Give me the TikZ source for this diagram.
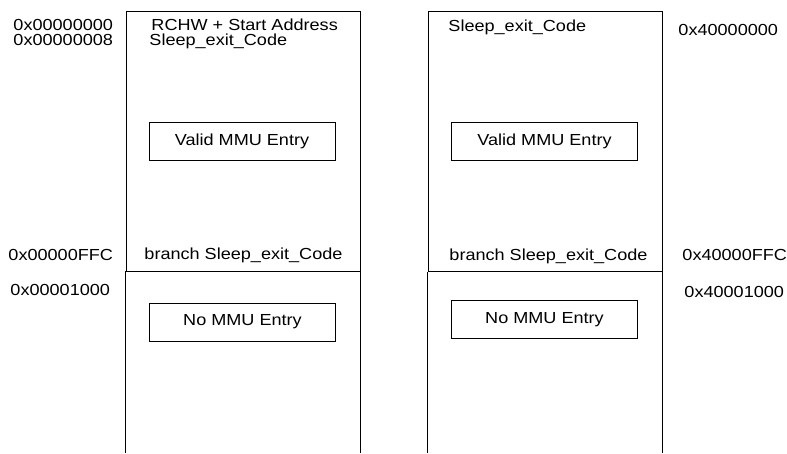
\documentclass[tikz,border=0pt]{standalone}
\usepackage{fontspec}
\setmainfont[FakeStretch=1.13]{Liberation Sans}
\usetikzlibrary{positioning}

\begin{document}
\begin{tikzpicture}[x=1pt, y=-1pt, line width=0.9pt, font=\fontsize{16pt}{19pt}\selectfont]
    \tikzstyle{page} = [rectangle, draw=black, minimum width=234pt, minimum height=260pt, inner sep=0pt]
    \tikzstyle{entry} = [rectangle, draw=black, minimum width=186pt, minimum height=38pt, inner sep=0pt]
    \tikzstyle{label} = [anchor=base west, inner sep=0pt]

    \useasboundingbox (0,0) rectangle (787,453);
    \coordinate (bottom) at (0,453);

    \node[page] (flashtop) at (243,141) {};
    \node[page] (ramtop) at (545,141.5) {};

    \draw (flashtop.south west) -- (flashtop.south west |- bottom);
    \draw (flashtop.south east) -- (flashtop.south east |- bottom);
    \draw (ramtop.south west) -- (ramtop.south west |- bottom);
    \draw (ramtop.south east) -- (ramtop.south east |- bottom);

    \node[entry] (flashvalid) at (242,141.5) {Valid MMU Entry};
    \node[entry] (ramvalid) at (544.5,141.5) {Valid MMU Entry};
    \node[entry] (flashno) at (242.5,322) {No MMU Entry};
    \node[entry] (ramno) at (544.5,319.5) {No MMU Entry};

    \node[label] (rchw) at (151,30) {RCHW + Start Address};
    \node[label] (flashexit) at (149,45) {Sleep\_exit\_Code};
    \node[label] (ramexit) at (448,31) {Sleep\_exit\_Code};
    \node[label] (flashbranch) at (144,259) {branch Sleep\_exit\_Code};
    \node[label] (rambranch) at (449,260) {branch Sleep\_exit\_Code};

    \node[label] (addra) at (13,30) {0x00000000};
    \node[label] (addrb) at (13,45) {0x00000008};
    \node[label] (addrc) at (8,260) {0x00000FFC};
    \node[label] (addrd) at (10,295) {0x00001000};
    \node[label] (addre) at (678,35) {0x40000000};
    \node[label] (addrf) at (682,260) {0x40000FFC};
    \node[label] (addrg) at (684,297) {0x40001000};
\end{tikzpicture}
\end{document}
